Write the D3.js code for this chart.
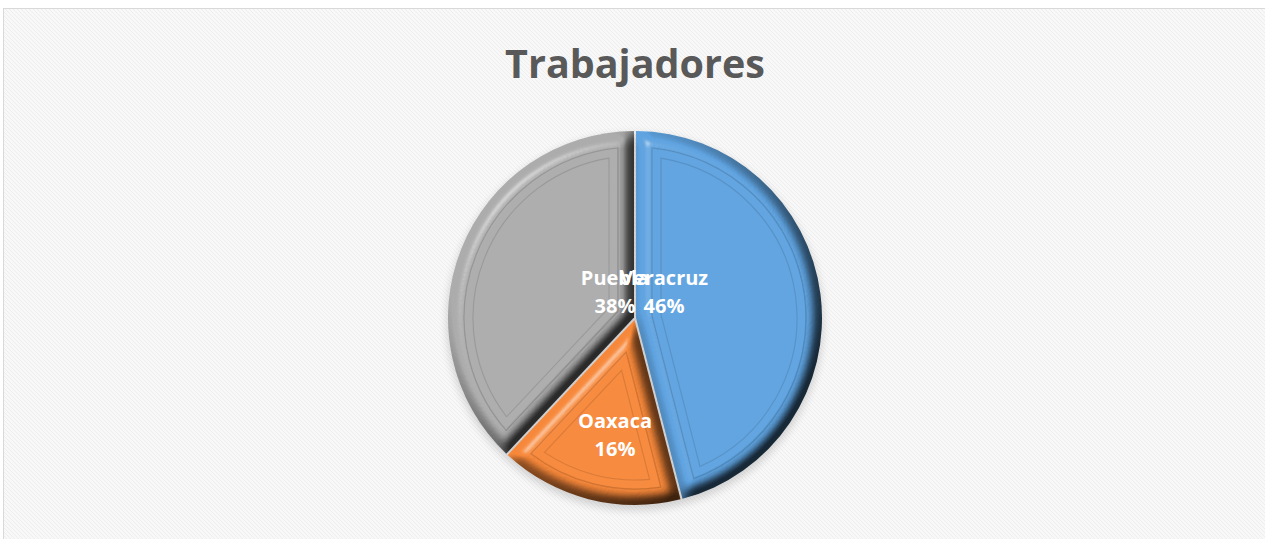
<!DOCTYPE html>
<html>
<head>
<meta charset="utf-8">
<script src="https://cdn.jsdelivr.net/npm/d3@7"></script>
<style>
  body { margin: 0; background: #fff; }
  svg { display: block; }
</style>
</head>
<body>
<div id="chart"></div>
<script>
// datos
const title = "Trabajadores";
const categories = ["Veracruz", "Oaxaca", "Puebla"];
const values = [46, 16, 38];
const colors = ["#5FA3E0", "#F7883A", "#ACACAC"];

const width = 1265, height = 539,
      cx = 635, cy = 318,
      radius = 188;

const svg = d3.select("#chart").append("svg")
  .attr("width", width)
  .attr("height", height);

const defs = svg.append("defs");

// fondo con textura
const pat = defs.append("pattern")
  .attr("id", "weave")
  .attr("width", 4).attr("height", 4)
  .attr("patternUnits", "userSpaceOnUse");
pat.append("rect").attr("width", 4).attr("height", 4).attr("fill", "#f8f8f8");
pat.append("path").attr("d", "M0,0L4,4").attr("stroke", "#eeeeee").attr("stroke-width", 1);

svg.append("rect")
  .attr("x", 3.5).attr("y", 8.5)
  .attr("width", width).attr("height", height)
  .attr("fill", "url(#weave)")
  .attr("stroke", "#d9d9d9");

// bisel
const f = defs.append("filter")
  .attr("id", "bevel")
  .attr("x", "-5%").attr("y", "-5%").attr("width", "110%").attr("height", "110%")
  .attr("color-interpolation-filters", "sRGB");
f.append("feGaussianBlur").attr("in", "SourceAlpha").attr("stdDeviation", 6.5).attr("result", "blur");
f.append("feDiffuseLighting")
  .attr("in", "blur").attr("surfaceScale", 14).attr("diffuseConstant", 1)
  .attr("lighting-color", "#fff").attr("result", "diff0")
  .append("feDistantLight").attr("azimuth", 225).attr("elevation", 55);
const ct = f.append("feComponentTransfer").attr("in", "diff0").attr("result", "diff");
["feFuncR", "feFuncG", "feFuncB"].forEach(fn =>
  ct.append(fn).attr("type", "linear").attr("slope", 0.92).attr("intercept", 0.25));
f.append("feComposite")
  .attr("in", "diff").attr("in2", "SourceGraphic")
  .attr("operator", "arithmetic")
  .attr("k1", 1).attr("k2", 0).attr("k3", 0).attr("k4", 0)
  .attr("result", "lit");
f.append("feSpecularLighting")
  .attr("in", "blur").attr("surfaceScale", 14)
  .attr("specularConstant", 0.45).attr("specularExponent", 30)
  .attr("lighting-color", "#fff").attr("result", "spec")
  .append("feDistantLight").attr("azimuth", 225).attr("elevation", 40);
f.append("feComposite").attr("in", "spec").attr("in2", "SourceAlpha").attr("operator", "in").attr("result", "specIn");
f.append("feComposite").attr("in", "specIn").attr("in2", "lit").attr("operator", "over");

const sh = defs.append("filter").attr("id", "shadow")
  .attr("x", "-10%").attr("y", "-10%").attr("width", "120%").attr("height", "120%");
sh.append("feGaussianBlur").attr("stdDeviation", 4);

// titulo
svg.append("text")
  .attr("x", cx).attr("y", 78)
  .attr("text-anchor", "middle")
  .attr("font-family", "'Open Sans', sans-serif")
  .attr("font-weight", "bold")
  .attr("font-size", 39.5)
  .attr("fill", "#595959")
  .text(title);

// cuña con margen interior d
function wedge(a0, a1, r, d) {
  const h = (a1 - a0) / 2, m = (a0 + a1) / 2;
  const R = r - d, delta = Math.asin(d / R);
  const apex = d / Math.sin(h);
  const p = d3.path();
  p.moveTo(apex * Math.sin(m), -apex * Math.cos(m));
  p.lineTo(R * Math.sin(a0 + delta), -R * Math.cos(a0 + delta));
  p.arc(0, 0, R, a0 + delta - Math.PI / 2, a1 - delta - Math.PI / 2);
  p.closePath();
  return p.toString();
}

const pie = d3.pie().sort(null).value(d => d.value);
const arcs = pie(categories.map((c, i) => ({ name: c, value: values[i], color: colors[i] })));
const total = d3.sum(values);

const g = svg.append("g").attr("transform", `translate(${cx},${cy})`);

g.append("circle")
  .attr("cx", 0).attr("cy", 4).attr("r", radius)
  .attr("fill", "#000").attr("opacity", 0.15)
  .attr("filter", "url(#shadow)");

const slices = g.selectAll("g.slice").data(arcs).join("g")
  .attr("class", "slice")
  .attr("filter", "url(#bevel)");

slices.append("path")
  .attr("d", d => wedge(d.startAngle, d.endAngle, radius, 1))
  .attr("fill", d => d.data.color);

slices.append("path")
  .attr("d", d => wedge(d.startAngle, d.endAngle, radius, 17))
  .attr("fill", "none")
  .attr("stroke", d => d3.color(d.data.color).darker(0.8))
  .attr("stroke-opacity", 0.6)
  .attr("stroke-width", 1.3);

slices.append("path")
  .attr("d", d => wedge(d.startAngle, d.endAngle, radius, 26))
  .attr("fill", "none")
  .attr("stroke", d => d3.color(d.data.color).darker(0.7))
  .attr("stroke-opacity", 0.55)
  .attr("stroke-width", 1.1);

// etiquetas (posicion de la primera linea respecto al centro)
const labelSpot = { "Veracruz": [29, -33], "Oaxaca": [-20, 110], "Puebla": [-20, -33] };
const labels = g.selectAll("text.lbl").data(arcs).join("text")
  .attr("class", "lbl")
  .attr("text-anchor", "middle")
  .attr("font-family", "'Open Sans', sans-serif")
  .attr("font-weight", "bold")
  .attr("font-size", 20)
  .attr("fill", "#fff");
labels.append("tspan")
  .attr("x", d => labelSpot[d.data.name][0])
  .attr("y", d => labelSpot[d.data.name][1])
  .text(d => d.data.name);
labels.append("tspan")
  .attr("x", d => labelSpot[d.data.name][0])
  .attr("y", d => labelSpot[d.data.name][1] + 28)
  .text(d => Math.round(d.data.value / total * 100) + "%");
</script>
</body>
</html>
